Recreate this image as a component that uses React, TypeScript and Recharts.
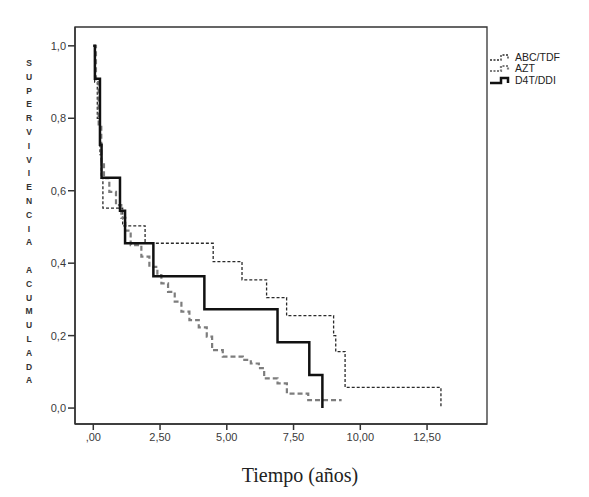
import { LineChart, Line, XAxis, YAxis, ReferenceArea } from "recharts";

// Kaplan-Meier steps (time in years, cumulative survival)
const abcTime = [0, 0.05, 0.15, 0.25, 0.3, 0.36, 1.1, 1.94, 4.49, 5.57, 6.49, 7.24, 9.0, 9.08, 9.43, 13.02];
const abcSurv = [1.0, 0.9, 0.8, 0.7, 0.635, 0.552, 0.503, 0.455, 0.404, 0.354, 0.305, 0.255, 0.2, 0.156, 0.057, 0];

const aztTime = [0, 0.1, 0.2, 0.3, 0.4, 0.6, 0.85, 1.05, 1.2, 1.4, 1.8, 2.1, 2.4, 2.55, 2.8, 3.05, 3.3, 3.6, 3.95, 4.25, 4.45, 4.85, 5.6, 5.9, 6.2, 6.4, 6.9, 7.25, 8.05, 9.3];
const aztSurv = [1.0, 0.9, 0.78, 0.68, 0.635, 0.597, 0.56, 0.525, 0.49, 0.45, 0.418, 0.39, 0.367, 0.344, 0.321, 0.294, 0.266, 0.243, 0.223, 0.197, 0.16, 0.142, 0.133, 0.123, 0.11, 0.082, 0.068, 0.04, 0.022, 0.022];

const d4tTime = [0, 0.06, 0.25, 0.31, 1.0, 1.19, 2.25, 4.16, 6.9, 8.09, 8.58];
const d4tSurv = [1.0, 0.909, 0.727, 0.636, 0.545, 0.455, 0.364, 0.273, 0.182, 0.091, 0];

const xTicks = [0, 2.5, 5, 7.5, 10, 12.5];
const yTicks = [0, 0.2, 0.4, 0.6, 0.8, 1.0];

const yTitle = "SUPERVIVIENCIA ACUMULADA";

const X_MIN = -0.685;
const X_MAX = 14.745;
const Y_MIN = -0.044;
const Y_MAX = 1.052;

const toRows = (t: number[], s: number[]) => t.map((v, i) => ({ t: v, s: s[i] }));

const series = [
  { name: "ABC/TDF", data: toRows(abcTime, abcSurv), stroke: "#2a2a2a", width: 1.3, dash: "3 2" },
  { name: "AZT", data: toRows(aztTime, aztSurv), stroke: "#7d7d7d", width: 2.2, dash: "5 3" },
  { name: "D4T/DDI", data: toRows(d4tTime, d4tSurv), stroke: "#111", width: 2.5, dash: undefined },
];

const fmtX = (v: number) => (v === 0 ? ",00" : v.toFixed(2).replace(".", ","));
const fmtY = (v: number) => v.toFixed(1).replace(".", ",");

const tickStyle = { fill: "#3a3a3a", fontSize: 11, fontFamily: "Liberation Sans, Arial, sans-serif" };

export default function App() {
  return (
    <div style={{ position: "absolute", left: 0, top: 0, width: 589, height: 497, background: "#fff" }}>
      <LineChart width={589} height={497} margin={{ top: 27, right: 102, bottom: 43, left: 30 }}>
        <XAxis
          type="number"
          dataKey="t"
          domain={[X_MIN, X_MAX]}
          ticks={xTicks}
          tickFormatter={fmtX}
          tick={tickStyle}
          tickSize={6}
          tickMargin={3}
          height={30}
          stroke="#333"
          strokeWidth={1.5}
          allowDataOverflow
        />
        <YAxis
          type="number"
          domain={[Y_MIN, Y_MAX]}
          ticks={yTicks}
          tickFormatter={fmtY}
          tick={tickStyle}
          tickSize={7}
          tickMargin={2}
          width={45}
          stroke="#333"
          strokeWidth={1.5}
          allowDataOverflow
        />
        <ReferenceArea x1={X_MIN} x2={X_MAX} y1={Y_MIN} y2={Y_MAX} fill="none" stroke="#333" strokeWidth={1.3} />
        {series.map((s) => (
          <Line
            key={s.name}
            data={s.data}
            dataKey="s"
            name={s.name}
            type="stepAfter"
            stroke={s.stroke}
            strokeWidth={s.width}
            strokeDasharray={s.dash}
            dot={false}
            isAnimationActive={false}
          />
        ))}
      </LineChart>

      {/* stacked y title */}
      {yTitle.split("").map((ch, i) => (
        <span
          key={i}
          style={{
            position: "absolute",
            left: 22,
            width: 14,
            top: 57 + i * 13.8,
            textAlign: "center",
            fontFamily: "Liberation Sans, Arial, sans-serif",
            fontWeight: "bold",
            fontSize: 8.5,
            lineHeight: "12px",
            color: "#333",
          }}
        >
          {ch}
        </span>
      ))}

      {/* legend */}
      <div style={{ position: "absolute", left: 490, top: 51, fontFamily: "Liberation Sans, Arial, sans-serif", fontSize: 10.5, color: "#222" }}>
        {series.map((s) => (
          <div key={s.name} style={{ display: "flex", alignItems: "center", height: 11.5 }}>
            <svg width={24} height={10} style={{ marginRight: 1 }}>
              <path
                d="M0,8 H11 V3 H18 V8"
                fill="none"
                stroke={s.stroke}
                strokeWidth={s.width}
                strokeDasharray={s.dash ? "2 1.5" : undefined}
              />
            </svg>
            <span>{s.name}</span>
          </div>
        ))}
      </div>

      <div
        style={{
          position: "absolute",
          left: 0,
          width: 600,
          top: 464,
          textAlign: "center",
          fontFamily: "Liberation Serif, Times New Roman, serif",
          fontSize: 20,
          color: "#222",
        }}
      >
        Tiempo (años)
      </div>
    </div>
  );
}
